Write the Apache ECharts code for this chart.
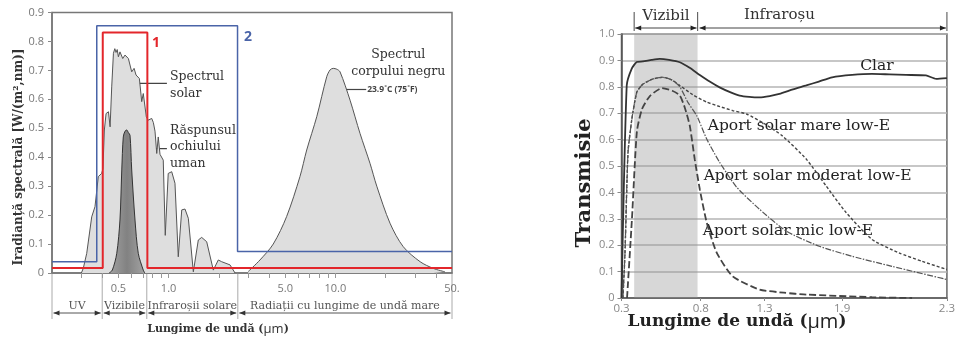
<!DOCTYPE html>
<html>
<head>
<meta charset="utf-8">
<script src="https://cdn.jsdelivr.net/npm/echarts@6/dist/echarts.min.js"></script>
<style>
  html, body { margin: 0; padding: 0; background: #fff; }
  #chart { width: 958px; height: 337px; }
</style>
</head>
<body>
<div id="chart"></div>
<script>
// ---------- left panel: spectral irradiance, wavelength in µm (log axis) ----------
const solarSpectrum = [
  [0.30, 0], [0.308, 0.016], [0.323, 0.068], [0.346, 0.194], [0.362, 0.229], [0.379, 0.333],
  [0.397, 0.344], [0.404, 0.36], [0.412, 0.494], [0.422, 0.551], [0.436, 0.557], [0.446, 0.505],
  [0.456, 0.643], [0.467, 0.759], [0.476, 0.775], [0.484, 0.762], [0.492, 0.772], [0.50, 0.747],
  [0.511, 0.764], [0.531, 0.741], [0.548, 0.753], [0.574, 0.741], [0.601, 0.695], [0.621, 0.707],
  [0.638, 0.684], [0.668, 0.672], [0.69, 0.592], [0.705, 0.62], [0.722, 0.62], [0.735, 0.54],
  [0.755, 0.528], [0.792, 0.534], [0.81, 0.52], [0.829, 0.49], [0.849, 0.413], [0.867, 0.47],
  [0.888, 0.41], [0.929, 0.39], [0.955, 0.13], [0.995, 0.344], [1.044, 0.35], [1.092, 0.31],
  [1.143, 0.056], [1.199, 0.218], [1.254, 0.221], [1.313, 0.189], [1.407, 0.004], [1.507, 0.114],
  [1.579, 0.123], [1.692, 0.108], [1.854, 0.01], [1.986, 0.045], [2.081, 0.039], [2.335, 0.028],
  [2.502, 0]
];
const eyeResponse = [
  [0.44, 0], [0.46, 0.01], [0.489, 0.068], [0.511, 0.183], [0.524, 0.356], [0.535, 0.47],
  [0.548, 0.49], [0.561, 0.494], [0.574, 0.485], [0.587, 0.476], [0.601, 0.356], [0.629, 0.183],
  [0.658, 0.068], [0.705, 0.01], [0.72, 0]
];
const blackBody = [
  [3.0, 0.005], [3.53, 0.045], [4.24, 0.1], [5.1, 0.195], [6.13, 0.333], [6.73, 0.425],
  [7.73, 0.54], [8.87, 0.678], [9.3, 0.702], [9.71, 0.707], [10.2, 0.704], [10.66, 0.695],
  [12.24, 0.597], [14.05, 0.482], [16.12, 0.379], [17.7, 0.3], [21.25, 0.172], [25.5, 0.091],
  [32.2, 0.039], [38.6, 0.016], [45.4, 0.004]
];
const filter1 = [[0.2, 0.017], [0.403, 0.017], [0.403, 0.831], [0.746, 0.831], [0.746, 0.017], [50, 0.017]];
const filter2 = [[0.2, 0.039], [0.371, 0.039], [0.371, 0.854], [2.59, 0.854], [2.59, 0.074], [50, 0.074]];
const leftTickValues = [0.5, 1, 5, 10, 50];
const leftTickLabels = ['0.5', '1.0', '5.0', '10.0', '50.'];
const leftMinorTicks = [0.3, 0.4, 0.5, 0.6, 0.7, 0.8, 0.9, 1, 2, 3, 4, 5, 6, 7, 8, 9, 10, 20, 30, 40];
const regionEdges = [0.2, 0.4, 0.74, 2.6, 50];
const regionNames = ['UV', 'Vizibile', 'Infraroșii solare', 'Radiații cu lungime de undă mare'];

// ---------- right panel: transmission ----------
const clar = [
  [0.3, 0], [0.333, 0.805], [0.364, 0.868], [0.396, 0.894], [0.435, 0.896], [0.49, 0.902],
  [0.542, 0.906], [0.60, 0.902], [0.668, 0.893], [0.73, 0.872], [0.794, 0.845], [0.87, 0.82],
  [0.948, 0.798], [1.03, 0.78], [1.105, 0.767], [1.18, 0.762], [1.261, 0.76], [1.34, 0.765],
  [1.415, 0.773], [1.52, 0.79], [1.623, 0.805], [1.72, 0.82], [1.823, 0.836], [1.938, 0.845],
  [2.014, 0.849], [2.08, 0.847], [2.144, 0.845], [2.22, 0.843], [2.259, 0.83], [2.3, 0.833]
];
const mare = [
  [0.309, 0], [0.322, 0.17], [0.341, 0.55], [0.366, 0.68], [0.397, 0.78], [0.435, 0.81],
  [0.50, 0.83], [0.561, 0.836], [0.62, 0.825], [0.668, 0.805], [0.75, 0.77], [0.847, 0.742],
  [0.95, 0.725], [1.05, 0.71], [1.159, 0.697], [1.30, 0.66], [1.438, 0.614], [1.623, 0.526],
  [1.777, 0.424], [1.915, 0.324], [2.014, 0.222], [2.117, 0.171], [2.205, 0.139], [2.3, 0.108]
];
const moderat = [
  [0.309, 0], [0.322, 0.17], [0.341, 0.55], [0.366, 0.68], [0.397, 0.78], [0.435, 0.81],
  [0.50, 0.83], [0.561, 0.836], [0.62, 0.825], [0.668, 0.8], [0.72, 0.74], [0.775, 0.69],
  [0.847, 0.602], [0.948, 0.514], [1.081, 0.42], [1.261, 0.336], [1.469, 0.253], [1.723, 0.196],
  [1.938, 0.158], [2.09, 0.12], [2.3, 0.07]
];
const mic = [
  [0.335, 0], [0.366, 0.3], [0.397, 0.63], [0.429, 0.715], [0.479, 0.765], [0.555, 0.795],
  [0.62, 0.785], [0.668, 0.767], [0.70, 0.72], [0.731, 0.652], [0.762, 0.526], [0.794, 0.412],
  [0.847, 0.286], [0.925, 0.172], [1.05, 0.082], [1.261, 0.032], [1.45, 0.02], [1.623, 0.013],
  [2.014, 0.003], [2.167, 0]
];
const rightTicks = [0.3, 0.8, 1.3, 1.9, 2.3];
const visibleBand = [0.38, 0.78];

// the printed wavelength axis is not linear: ticks sit at these fractions of its length
const rightTickPos = [0, 0.2435, 0.4395, 0.678, 1];
function warp(x) {
  for (let i = 0; i < rightTicks.length - 1; i++) {
    if (x <= rightTicks[i + 1] || i === rightTicks.length - 2) {
      const t = (x - rightTicks[i]) / (rightTicks[i + 1] - rightTicks[i]);
      return rightTickPos[i] + t * (rightTickPos[i + 1] - rightTickPos[i]);
    }
  }
}
const warped = (arr) => arr.map(([x, y]) => [warp(x), y]);
const nearest = (arr, v) => {
  let best = 0;
  arr.forEach((a, i) => { if (Math.abs(a - v) < Math.abs(arr[best] - v)) best = i; });
  return best;
};

const SERIF = '"DejaVu Serif", serif';
const SANS = '"Open Sans", sans-serif';

const option = {
  animation: false,
  grid: [
    { left: 52, top: 12.5, width: 400, height: 260.5, show: true, borderColor: '#777', borderWidth: 1.5 },
    { left: 621.5, top: 34, width: 326.5, height: 264, show: true, borderColor: '#666', borderWidth: 1.5 }
  ],
  xAxis: [
    {
      type: 'log', gridIndex: 0, min: 0.2, max: 50, logBase: 10,
      axisLine: { show: true, lineStyle: { color: '#777', width: 1.5 } },
      axisTick: { show: true, customValues: leftMinorTicks, length: 5, lineStyle: { color: '#999' } },
      axisLabel: {
        customValues: leftTickValues,
        formatter: (v) => leftTickLabels[nearest(leftTickValues, v)],
        color: '#777', fontFamily: SANS, fontSize: 11, margin: 10
      },
      splitLine: { show: false }, minorTick: { show: false }
    },
    {
      type: 'value', gridIndex: 1, min: 0, max: 1,
      axisLine: { show: true, lineStyle: { color: '#555', width: 1.5 } },
      axisTick: { show: true, customValues: rightTickPos, length: 3, lineStyle: { color: '#888' } },
      axisLabel: {
        customValues: rightTickPos,
        formatter: (v) => String(rightTicks[nearest(rightTickPos, v)]),
        color: '#888', fontFamily: SANS, fontSize: 11.5, margin: 5
      },
      splitLine: { show: false }
    }
  ],
  yAxis: [
    {
      type: 'value', gridIndex: 0, min: 0, max: 0.9, interval: 0.1,
      axisLine: { show: true, lineStyle: { color: '#777', width: 1.5 } },
      axisTick: { show: true, length: 4, lineStyle: { color: '#888' } },
      axisLabel: { formatter: (v) => (v === 0 ? '0' : v.toFixed(1)), color: '#777', fontFamily: SANS, fontSize: 11, margin: 8 },
      splitLine: { show: false }
    },
    {
      type: 'value', gridIndex: 1, min: 0, max: 1, interval: 0.1,
      axisLine: { show: true, lineStyle: { color: '#555', width: 1.5 } },
      axisTick: { show: true, length: 4, lineStyle: { color: '#888' } },
      axisLabel: { formatter: (v) => (v === 0 ? '0' : v.toFixed(1)), color: '#888', fontFamily: SANS, fontSize: 11, margin: 7 },
      splitLine: { show: true, lineStyle: { color: '#b4b4b4', width: 1.5 } }
    }
  ],
  series: [
    {
      name: 'Spectrul solar', type: 'line', xAxisIndex: 0, yAxisIndex: 0, data: solarSpectrum,
      showSymbol: false, lineStyle: { color: '#555', width: 1 }, areaStyle: { color: '#dedede', opacity: 1 }
    },
    {
      name: 'Răspunsul ochiului uman', type: 'line', xAxisIndex: 0, yAxisIndex: 0, data: eyeResponse,
      showSymbol: false, smooth: 0.3, lineStyle: { color: '#333', width: 1 },
      areaStyle: { color: new echarts.graphic.LinearGradient(0, 0, 1, 0, [
        { offset: 0, color: '#8a8a8a' }, { offset: 0.5, color: '#5a5a5a' }, { offset: 1, color: '#8a8a8a' }
      ]) }
    },
    {
      name: 'Spectrul corpului negru', type: 'line', xAxisIndex: 0, yAxisIndex: 0, data: blackBody,
      showSymbol: false, smooth: 0.3, lineStyle: { color: '#555', width: 1 }, areaStyle: { color: '#dedede', opacity: 1 }
    },
    {
      name: '2', type: 'line', xAxisIndex: 0, yAxisIndex: 0, data: filter2,
      showSymbol: false, lineStyle: { color: '#4a64a8', width: 1.5 }
    },
    {
      name: '1', type: 'line', xAxisIndex: 0, yAxisIndex: 0, data: filter1,
      showSymbol: false, lineStyle: { color: '#e3262b', width: 2 }
    },
    {
      name: 'Clar', type: 'line', xAxisIndex: 1, yAxisIndex: 1, data: warped(clar),
      showSymbol: false, smooth: 0.2, lineStyle: { color: '#333', width: 1.8 },
      markArea: {
        silent: true,
        itemStyle: { color: 'rgba(150,150,150,0.38)' },
        data: [[{ xAxis: warp(visibleBand[0]) }, { xAxis: warp(visibleBand[1]) }]]
      }
    },
    {
      name: 'Aport solar mare low-E', type: 'line', xAxisIndex: 1, yAxisIndex: 1, data: warped(mare),
      showSymbol: false, smooth: 0.2, lineStyle: { color: '#444', width: 1.4, type: [3, 2] }
    },
    {
      name: 'Aport solar moderat low-E', type: 'line', xAxisIndex: 1, yAxisIndex: 1, data: warped(moderat),
      showSymbol: false, smooth: 0.2, lineStyle: { color: '#555', width: 1.2, type: [6, 1.5, 1.5, 1.5] }
    },
    {
      name: 'Aport solar mic low-E', type: 'line', xAxisIndex: 1, yAxisIndex: 1, data: warped(mic),
      showSymbol: false, smooth: 0.2, lineStyle: { color: '#444', width: 1.8, type: [7, 3] }
    }
  ]
};

const chart = echarts.init(document.getElementById('chart'));
chart.setOption(option);

// ---------- annotations, placed from data coordinates ----------
const L = (x, y) => chart.convertToPixel({ gridIndex: 0 }, [x, y]);
const R = (x, y) => chart.convertToPixel({ gridIndex: 1 }, [warp(x), y]);

function seg(x1, y1, x2, y2, color, w) {
  return { type: 'line', silent: true, shape: { x1, y1, x2, y2 }, style: { stroke: color || '#555', lineWidth: w || 1 } };
}
function head(x, y, dir, color) {
  return { type: 'polygon', silent: true, shape: { points: [[x, y], [x - dir * 6, y - 2.5], [x - dir * 6, y + 2.5]] }, style: { fill: color || '#333' } };
}
function txt(x, y, text, font, extra) {
  return { type: 'text', silent: true, x, y, style: Object.assign({ text, font, fill: '#333', align: 'left', verticalAlign: 'middle' }, extra || {}) };
}

const g = [];
// filter numbers
let p = L(0.84, 0.794);
g.push(txt(p[0], p[1], '1', 'bold 14px ' + SANS, { fill: '#e3262b', align: 'center' }));
p = L(2.99, 0.815);
g.push(txt(p[0], p[1], '2', 'bold 14px ' + SANS, { fill: '#4a64a8', align: 'center' }));

// arrows pointing at the curves
[[0.655, 0.649, 'Spectrul\nsolar'], [0.43, 0.435, 'Răspunsul\nochiului\numan']].forEach(([ya, yt, label]) => {
  const a = L(0.977, ya), b = L(0.574, ya);
  g.push(seg(a[0], a[1], b[0] + 5, b[1], '#444', 1.2), head(b[0], b[1], -1, '#222'));
  const t = L(1.02, yt);
  g.push(txt(t[0], t[1], label, '12.5px ' + SERIF, { lineHeight: 16.5, fill: '#333' }));
});
p = L(23.8, 0.724);
g.push(txt(p[0], p[1], 'Spectrul\ncorpului negru', '12.5px ' + SERIF, { lineHeight: 16.5, align: 'center' }));
let a = L(15.3, 0.634), b = L(9.94, 0.634);
g.push(seg(a[0], a[1], b[0] + 5, b[1], '#444', 1.2), head(b[0], b[1], -1, '#222'));
p = L(15.5, 0.634);
g.push(txt(p[0], p[1], '23.9˚C (75˚F)', 'bold 8.5px ' + SANS, { fill: '#444' }));

// wavelength regions below the left axis
const y0 = L(1, 0)[1];
regionEdges.forEach((e) => {
  const x = L(e, 0)[0];
  g.push(seg(x, y0, x, y0 + 46, '#aaa', 1));
});
regionNames.forEach((name, i) => {
  const xa = L(regionEdges[i], 0)[0] + 1.5, xb = L(regionEdges[i + 1], 0)[0] - 1.5;
  const ya = y0 + 40;
  g.push(seg(xa, ya, xb, ya, '#555', 1), head(xa, ya, -1, '#333'), head(xb, ya, 1, '#333'));
  g.push(txt((xa + xb) / 2, y0 + 33, name, '11px ' + SERIF, { align: 'center', fill: '#555' }));
});
g.push(txt(218, 329, '{a|Lungime de undă (}{b|µm}{a|)}', '', {
  align: 'center',
  rich: { a: { font: 'bold 11px ' + SERIF, fill: '#333' }, b: { font: '13px ' + SANS, fill: '#333' } }
}));
g.push(txt(19, 157, 'Iradianță spectrală [W/(m²,nm)]', 'bold 12px ' + SERIF, { align: 'center' }));
g[g.length - 1].rotation = Math.PI / 2;

// right panel: Vizibil / Infraroșu bracket above the plot
const xv0 = R(visibleBand[0], 1)[0], xv1 = R(visibleBand[1], 1)[0], xr = R(2.3, 1)[0];
[xv0, xv1, xr].forEach((x) => g.push(seg(x, 12, x, 31, '#666', 1.2)));
g.push(seg(xv0 + 1, 28, xv1 - 1, 28, '#444', 1), head(xv0 + 1, 28, -1, '#222'), head(xv1 - 1, 28, 1, '#222'));
g.push(seg(xv1 + 2, 28, xr - 1, 28, '#444', 1), head(xv1 + 2, 28, -1, '#222'), head(xr - 1, 28, 1, '#222'));
g.push(txt((xv0 + xv1) / 2, 16.5, 'Vizibil', '15px ' + SERIF, { align: 'center' }));
g.push(txt(R(1.415, 1)[0], 15, 'Infraroșu', '15px ' + SERIF, { align: 'center' }));

// curve labels
p = R(2.033, 0.88);
g.push(txt(p[0], p[1], 'Clar', '15.5px ' + SERIF, { align: 'center', fill: '#222' }));
[[0.855, 0.652, 'Aport solar mare low-E'], [0.823, 0.462, 'Aport solar moderat low-E'], [0.816, 0.253, 'Aport solar mic low-E']]
  .forEach(([x, y, label]) => {
    const q = R(x, y);
    g.push(txt(q[0], q[1], label, '15.5px ' + SERIF, { fill: '#222' }));
  });
g.push(txt(737, 322, '{a|Lungime de undă (}{b|µm}{a|)}', '', {
  align: 'center',
  rich: { a: { font: 'bold 17px ' + SERIF, fill: '#222' }, b: { font: '20px ' + SANS, fill: '#222' } }
}));
g.push(txt(585, 183, 'Transmisie', 'bold 21px ' + SERIF, { align: 'center', fill: '#222' }));
g[g.length - 1].rotation = Math.PI / 2;

chart.setOption({ graphic: g });
</script>
</body>
</html>
